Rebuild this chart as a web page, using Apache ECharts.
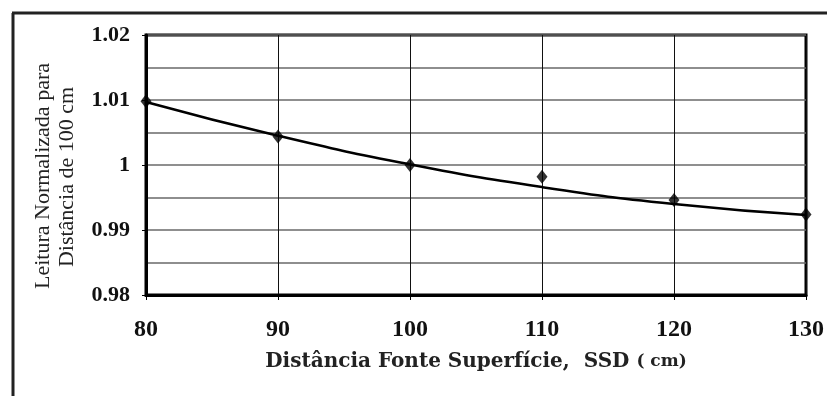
<!DOCTYPE html>
<html>
<head>
<meta charset="utf-8">
<script src="https://cdn.jsdelivr.net/npm/echarts@6/dist/echarts.min.js"></script>
<style>html,body{margin:0;padding:0;background:#fff}#c{width:827px;height:396px}</style>
</head>
<body>
<div id="c"></div>
<script>
// Data
const ssd = [80, 90, 100, 110, 120, 130];
const measured = [1.0098, 1.0044, 1.0000, 0.9982, 0.9946, 0.9924];
const fitted = [1.0097, 1.0045, 1.0001, 0.9966, 0.9940, 0.9923];
const yTicks = [0.98, 0.99, 1, 1.01, 1.02];
const xTitle = 'Distância Fonte Superfície,  SSD ';
const xTitleUnit = '( cm)';
const yTitle = ['Leitura Normalizada para', 'Distância de 100 cm'];

const chart = echarts.init(document.getElementById('c'), null, {renderer: 'canvas'});
const serif = 'Liberation Serif';
chart.setOption({
  animation: false,
  backgroundColor: '#fff',
  grid: {left: 146, right: 20, top: 35, bottom: 101, show: true, borderColor: '#000', borderWidth: 3},
  xAxis: {
    type: 'value', min: 80, max: 130, interval: 10,
    axisLine: {show: true, lineStyle: {color: '#000', width: 3}},
    axisTick: {show: true, length: 5, lineStyle: {color: '#000'}},
    axisLabel: {fontFamily: serif, fontWeight: 'bold', fontSize: 24, color: '#111', margin: 23},
    splitLine: {show: true, lineStyle: {color: '#111', width: 1}},
    name: xTitle + '{u|' + xTitleUnit + '}',
    nameLocation: 'middle', nameGap: 57,
    nameTextStyle: {fontFamily: 'DejaVu Serif', fontWeight: 'bold', fontSize: 20, color: '#222',
      rich: {u: {fontFamily: 'DejaVu Serif', fontWeight: 'bold', fontSize: 17, color: '#222'}}}
  },
  yAxis: {
    type: 'value', min: 0.98, max: 1.02, interval: 0.01,
    axisLine: {show: true, lineStyle: {color: '#000', width: 3}},
    axisTick: {show: true, length: 4, lineStyle: {color: '#000'}},
    axisLabel: {fontFamily: serif, fontWeight: 'bold', fontSize: 22, color: '#111', margin: 16,
      formatter: v => { const t = yTicks.find(k => Math.abs(k - v) < 1e-6); return t === undefined ? '' : String(t); }},
    splitLine: {show: true, lineStyle: {color: '#6a6a6a', width: 1.5}},
    minorTick: {show: true, splitNumber: 2, length: 0},
    minorSplitLine: {show: true, lineStyle: {color: '#6a6a6a', width: 1.5}}
  },
  graphic: [
    {type: 'line', shape: {x1: 13, y1: 13, x2: 13, y2: 396}, style: {stroke: '#222', lineWidth: 3}},
    {type: 'line', shape: {x1: 12, y1: 13, x2: 827, y2: 13}, style: {stroke: '#222', lineWidth: 3}},
    {type: 'text', x: 43, y: 176, rotation: Math.PI / 2,
      style: {text: yTitle[0], fontFamily: serif, fontSize: 22, fill: '#222', align: 'center', verticalAlign: 'middle'}},
    {type: 'text', x: 67, y: 177, rotation: Math.PI / 2,
      style: {text: yTitle[1], fontFamily: serif, fontSize: 22, fill: '#222', align: 'center', verticalAlign: 'middle'}}
  ],
  series: [
    {name: 'Ajuste', type: 'line', smooth: true, showSymbol: false, symbol: 'none',
      data: ssd.map((x, i) => [x, fitted[i]]), lineStyle: {color: '#000', width: 2.5}, z: 3},
    {name: 'Medido', type: 'scatter', symbol: 'diamond', symbolSize: [11, 14],
      data: ssd.map((x, i) => [x, measured[i]]), itemStyle: {color: '#000'}, z: 4}
  ]
});
</script>
</body>
</html>
